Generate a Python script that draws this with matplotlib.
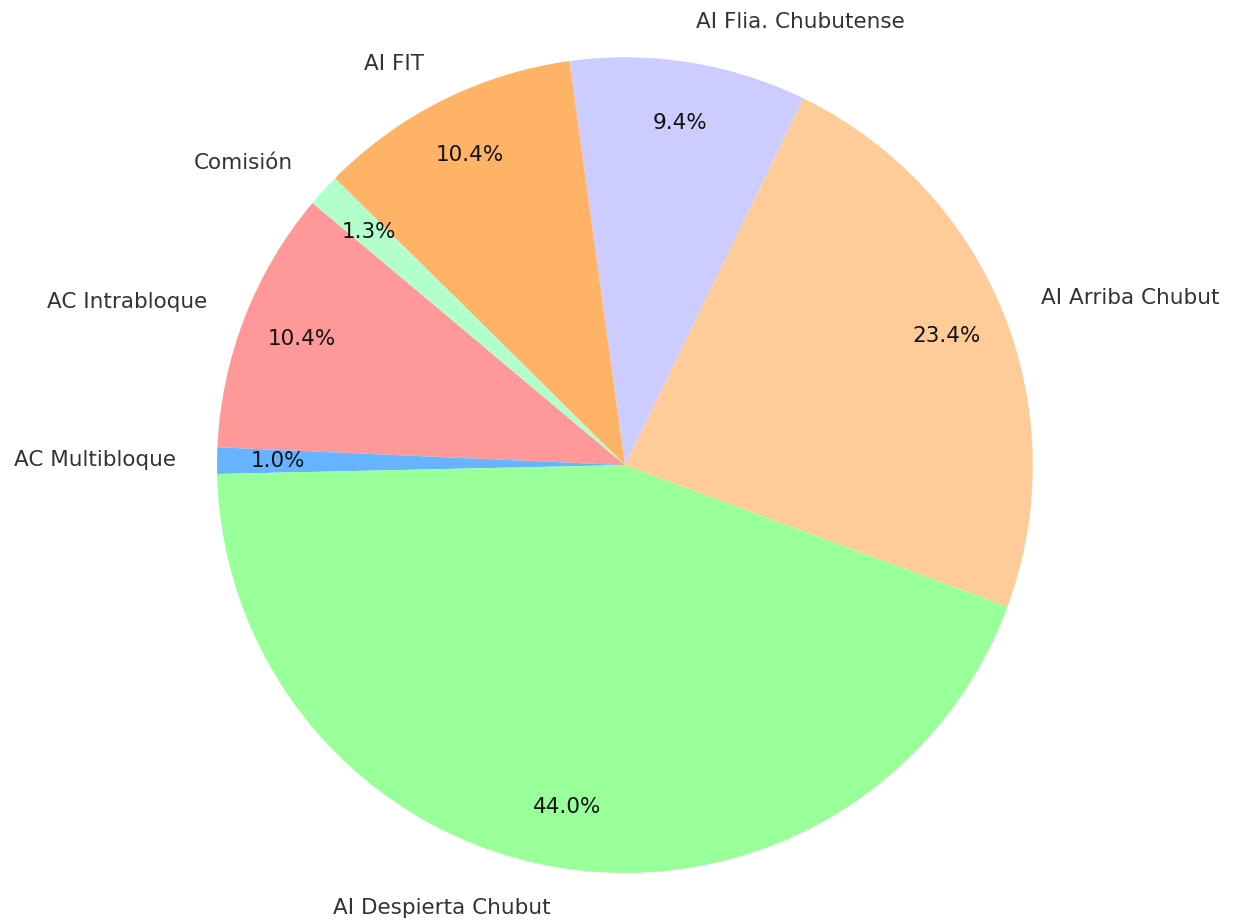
import matplotlib.pyplot as plt

labels = ["AC Intrabloque", "AC Multibloque", "AI Despierta Chubut", "AI Arriba Chubut",
          "AI Flia. Chubutense", "AI FIT", "Comisión"]
counts = [40, 4, 169, 90, 36, 40, 5]
colors = ["#ff9999", "#66b3ff", "#99ff99", "#ffcc99", "#ccccff", "#ffb366", "#b3ffcc"]

fig = plt.figure(figsize=(12.36, 9.21), dpi=100)
ax = fig.add_axes([0.1756, 0.052, 0.660, 0.886])
wedges, texts, autotexts = ax.pie(counts, labels=labels, colors=colors, autopct="%1.1f%%",
                                  startangle=140, pctdistance=0.85, labeldistance=1.1,
                                  textprops={"fontsize": 15.5})
for t in texts:
    t.set_color("#333333")
for t in autotexts:
    t.set_color("#111111")
ax.set_aspect("equal")
ax.set_xlim(-1, 1)
ax.set_ylim(-1, 1)

fig.savefig("out.png", dpi=100)
